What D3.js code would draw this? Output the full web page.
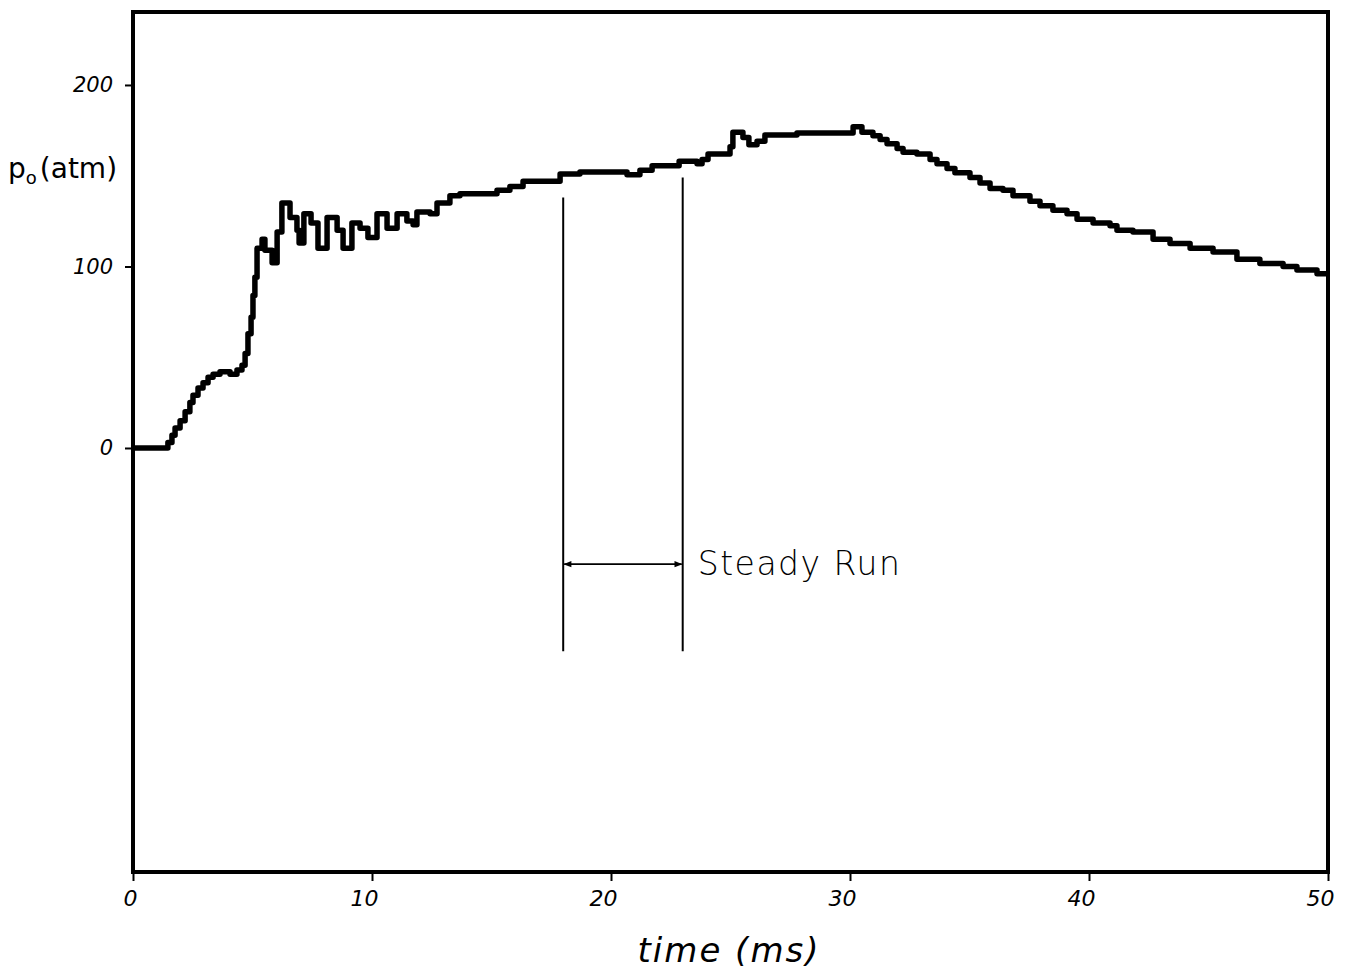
<!DOCTYPE html>
<html>
<head>
<meta charset="utf-8">
<script src="https://cdn.jsdelivr.net/npm/d3@7"></script>
<style>
  body { margin: 0; background: #fff; }
  svg { display: block; }
</style>
</head>
<body>
<div id="chart"></div>
<script>
// stagnation pressure trace (step record)
const times = [0, 1.46, 1.63, 1.76, 1.97, 2.18, 2.38, 2.51, 2.72, 2.93, 3.14, 3.35, 3.64, 4.06, 4.35, 4.56,
  4.69, 4.81, 4.94, 5.02, 5.10, 5.19, 5.40, 5.52, 5.82, 6.03, 6.23, 6.57, 6.86, 6.95, 7.15, 7.45, 7.74,
  8.12, 8.54, 8.79, 9.16, 9.50, 9.83, 10.21, 10.63, 11.05, 11.46, 11.72, 11.88, 12.43, 12.72, 13.26, 13.68,
  15.23, 15.77, 16.32, 17.87, 18.70, 20.67, 21.21, 21.72, 22.85, 23.60, 23.81, 24.06, 24.98, 25.10, 25.52,
  25.77, 26.11, 26.44, 27.78, 30.13, 30.50, 30.96, 31.26, 31.55, 31.97, 32.22, 32.80, 33.35, 33.64, 34.06,
  34.39, 35.02, 35.44, 35.86, 36.40, 36.82, 37.53, 37.95, 38.49, 39.08, 39.50, 40.17, 40.88, 41.17, 41.84,
  42.68, 43.39, 44.23, 45.19, 46.19, 47.15, 48.12, 48.70, 49.54, 49.92]
const pressures = [0, 3, 7, 11, 15, 20, 25, 29, 33, 36, 39, 40.6, 42, 40.6, 43, 45.6,
  52, 63, 72, 84, 94, 110, 115, 109, 102, 119, 135, 127, 120, 113, 129, 124, 110,
  127, 120, 110, 124, 121, 116, 129, 121, 129, 125, 123, 130, 129, 135, 139, 140,
  142, 144, 147, 151, 152, 150.5, 153, 155.5, 158, 156.6, 159, 162, 166, 174, 171,
  167, 169, 172.5, 173.6, 177, 174, 172, 170, 167.6, 165, 163, 162, 159, 156.6, 154,
  151.6, 149, 146, 143, 142, 139, 136, 133.5, 131, 129, 126, 124, 122.5, 120, 119,
  115, 112.6, 110, 108, 104, 101.6, 100, 98, 96, 96]

const xTicks = [0, 10, 20, 30, 40, 50]
const yTicks = [0, 100, 200]

// steady run window (ms) and where its marker lines sit (atm)
const steadyStart = 18
const steadyEnd = 23
const steadyTops = [138, 149]
const steadyBottom = -112
const arrowLevel = -64

const width = 1354
const height = 978
const margin = {left: 133, right: 26, top: 12, bottom: 106}

const svg = d3.select("#chart")
  .append("svg")
  .attr("width", width)
  .attr("height", height)

const x = d3.scaleLinear()
  .domain([0, 50])
  .range([margin.left, width - margin.right])

const y = d3.scaleLinear()
  .domain([-233.6, 240.2])
  .range([height - margin.bottom, margin.top])

const hand = "'DejaVu Sans', sans-serif"

// x axis ticks + labels
let xAxis = svg.append("g")
  .attr("transform", `translate(0,${height - margin.bottom})`)
  .call(d3.axisBottom(x).tickValues(xTicks).tickSize(9).tickPadding(9).tickFormat(d3.format("d")))
xAxis.select(".domain").remove()
xAxis.selectAll("line").attr("stroke", "#000").attr("stroke-width", 2)
xAxis.selectAll("text")
  .attr("fill", "#000")
  .style("font-family", hand)
  .style("font-style", "italic")
  .style("font-size", "22px")
  .attr("dx", d => d == 0 ? -3 : -8)

// y axis ticks + labels
let yAxis = svg.append("g")
  .attr("transform", `translate(${margin.left},0)`)
  .call(d3.axisLeft(y).tickValues(yTicks).tickSize(8).tickPadding(12).tickFormat(d3.format("d")))
yAxis.select(".domain").remove()
yAxis.selectAll("line").attr("stroke", "#000").attr("stroke-width", 2)
yAxis.selectAll("text")
  .attr("fill", "#000")
  .style("font-family", hand)
  .style("font-style", "italic")
  .style("font-size", "21px")

// plot frame
svg.append("rect")
  .attr("x", margin.left)
  .attr("y", margin.top)
  .attr("width", width - margin.left - margin.right)
  .attr("height", height - margin.top - margin.bottom)
  .attr("fill", "none")
  .attr("stroke", "#000")
  .attr("stroke-width", 4)

// the pressure trace
let trace = times.map((t, i) => ({t: t, p: pressures[i]}))
let line = d3.line()
  .x(d => x(d.t))
  .y(d => y(d.p))
  .curve(d3.curveStepAfter)

svg.append("path")
  .datum(trace)
  .attr("d", line)
  .attr("fill", "none")
  .attr("stroke", "#000")
  .attr("stroke-width", 5.5)
  .attr("stroke-linejoin", "round")

// steady run markers
svg.selectAll(".steady")
  .data([steadyStart, steadyEnd])
  .enter()
  .append("line")
  .attr("class", "steady")
  .attr("x1", d => x(d))
  .attr("x2", d => x(d))
  .attr("y1", (d, i) => y(steadyTops[i]))
  .attr("y2", y(steadyBottom))
  .attr("stroke", "#000")
  .attr("stroke-width", 2)

let defs = svg.append("defs")
defs.append("marker")
  .attr("id", "head")
  .attr("viewBox", "0 0 10 10")
  .attr("refX", 9)
  .attr("refY", 5)
  .attr("markerWidth", 7)
  .attr("markerHeight", 5)
  .attr("orient", "auto-start-reverse")
  .append("path")
  .attr("d", "M0,1 L10,5 L0,9 Z")
  .attr("fill", "#000")

svg.append("line")
  .attr("x1", x(steadyStart) + 1)
  .attr("x2", x(steadyEnd) - 1)
  .attr("y1", y(arrowLevel))
  .attr("y2", y(arrowLevel))
  .attr("stroke", "#000")
  .attr("stroke-width", 1.6)
  .attr("marker-start", "url(#head)")
  .attr("marker-end", "url(#head)")

svg.append("text")
  .attr("x", x(steadyEnd) + 15)
  .attr("y", y(arrowLevel) + 11)
  .style("font-family", hand)
  .style("font-size", "33px")
  .style("font-weight", 300)
  .style("letter-spacing", "1.5px")
  .text("Steady Run")

// axis titles
svg.append("text")
  .attr("x", 729)
  .attr("y", 962)
  .attr("text-anchor", "middle")
  .style("font-family", hand)
  .style("font-style", "italic")
  .style("font-size", "34px")
  .style("letter-spacing", "2px")
  .text("time (ms)")

let yTitle = svg.append("text")
  .attr("x", 8)
  .attr("y", 178)
  .style("font-family", hand)
  .style("font-size", "28px")
yTitle.append("tspan").text("p")
yTitle.append("tspan").attr("dy", 6).style("font-size", "18px").text("o")
yTitle.append("tspan").attr("dy", -6).attr("dx", 3).text("(atm)")
</script>
</body>
</html>
